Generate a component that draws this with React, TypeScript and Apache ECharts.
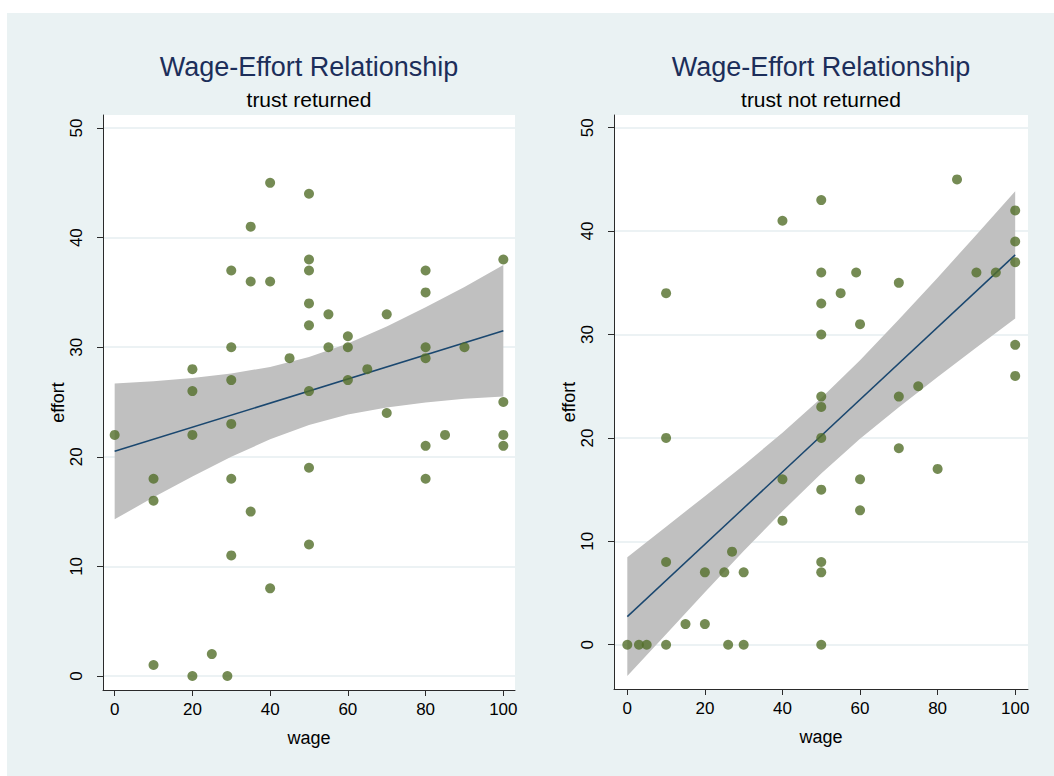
import React, { useEffect, useRef } from "react";
import * as echarts from "echarts";

// ---- data: trust returned (left panel) ----
const wageTR = [40, 50, 35, 50, 100, 30, 50, 80, 35, 40, 50, 80, 55, 70, 50, 60, 30, 55, 60, 80, 90, 45, 80, 20, 65, 30, 60, 20, 50, 100, 70, 0, 20, 30, 85, 100, 80, 100, 10, 30, 80, 50, 10, 35, 50, 30, 40, 10, 25, 20, 29];
const effortTR = [45, 44, 41, 38, 38, 37, 37, 37, 36, 36, 34, 35, 33, 33, 32, 31, 30, 30, 30, 30, 30, 29, 29, 28, 28, 27, 27, 26, 26, 25, 24, 22, 22, 23, 22, 22, 21, 21, 18, 18, 18, 19, 16, 15, 12, 11, 8, 1, 2, 0, 0];

// ---- data: trust not returned (right panel) ----
const wageTN = [85, 50, 40, 100, 100, 100, 50, 59, 90, 95, 10, 55, 50, 70, 60, 50, 100, 100, 70, 75, 50, 50, 10, 50, 70, 80, 40, 60, 50, 60, 40, 27, 10, 50, 20, 25, 30, 50, 15, 20, 0, 3, 5, 10, 26, 30, 50];
const effortTN = [45, 43, 41, 42, 39, 37, 36, 36, 36, 36, 34, 34, 33, 35, 31, 30, 29, 26, 24, 25, 24, 23, 20, 20, 19, 17, 16, 16, 15, 13, 12, 9, 8, 8, 7, 7, 7, 7, 2, 2, 0, 0, 0, 0, 0, 0, 0];

// ---- fitted line and 95% CI band ----
const bandWage = [0, 10, 20, 30, 40, 50, 60, 70, 80, 90, 100];
const lowerTR = [14.3, 16.3, 18.2, 20.0, 21.6, 22.9, 23.85, 24.5, 24.95, 25.3, 25.5];
const upperTR = [26.7, 26.9, 27.2, 27.6, 28.2, 29.1, 30.35, 31.9, 33.65, 35.5, 37.5];
const lowerTN = [-3.03, 1.02, 5.07, 9.06, 12.91, 16.56, 19.91, 22.96, 25.9, 28.75, 31.55];
const upperTN = [8.47, 11.42, 14.37, 17.36, 20.51, 23.86, 27.51, 31.46, 35.5, 39.65, 43.85];
const fitWage = [0, 100];
const fitTR = [20.5, 31.5];
const fitTN = [2.72, 37.7];

// ---- ticks ----
const xTicks = [0, 20, 40, 60, 80, 100];
const yTicks = [0, 10, 20, 30, 40, 50];

const titleText = "Wage-Effort Relationship";
const subtitles = ["trust returned", "trust not returned"];

const FONT = "'Liberation Sans', Arial, sans-serif";
const DOT = "#536e29";
const NAVY = "#1a476f";
const BAND = "#c0c0c0";
const BG = "#eaf2f3";
const GRIDLINE = "#e6eef0";
const AXIS = "#2a2a2a";

const pairs = (xs: number[], ys: number[]) => xs.map((x, i) => [x, ys[i]]);

export default function App() {
  const ref = useRef<HTMLDivElement>(null);
  useEffect(() => {
    if (!ref.current) return;
    const chart = echarts.init(ref.current, null, { renderer: "svg" });

    const grids = [
      { left: 96, top: 102, width: 412, height: 575 },
      { left: 607, top: 102, width: 414, height: 574 },
    ];
    const xr = [
      [-3, 103],
      [-3.43, 103.3],
    ];
    const yr = [
      [-1.28, 51.19],
      [-4.28, 51.23],
    ];

    const xAxis = [0, 1].map((i) => ({
      type: "value",
      gridIndex: i,
      min: xr[i][0],
      max: xr[i][1],
      name: "wage",
      nameLocation: "middle",
      nameGap: 39,
      nameTextStyle: { fontSize: 18, color: "#000", fontFamily: FONT },
      axisLine: { show: true, onZero: false, lineStyle: { color: AXIS, width: 1 } },
      axisTick: { show: true, length: 6, customValues: xTicks, lineStyle: { color: AXIS } },
      axisLabel: { customValues: xTicks, fontSize: 17, color: "#000", margin: 11, fontFamily: FONT },
      splitLine: { show: false },
    }));
    const yAxis = [0, 1].map((i) => ({
      type: "value",
      gridIndex: i,
      min: yr[i][0],
      max: yr[i][1],
      name: "effort",
      nameLocation: "middle",
      nameGap: 35,
      nameRotate: 90,
      nameTextStyle: { fontSize: 18, color: "#000", fontFamily: FONT },
      axisLine: { show: true, onZero: false, lineStyle: { color: AXIS, width: 1 } },
      axisTick: { show: true, length: 6, customValues: yTicks, lineStyle: { color: AXIS } },
      axisLabel: { customValues: yTicks, fontSize: 17, color: "#000", margin: 18, rotate: 90, fontFamily: FONT },
      splitLine: { show: true, lineStyle: { color: GRIDLINE, width: 1.5 } },
    }));

    const lowers = [lowerTR, lowerTN];
    const uppers = [upperTR, upperTN];
    const fits = [fitTR, fitTN];
    const pts = [pairs(wageTR, effortTR), pairs(wageTN, effortTN)];

    const series: any[] = [];
    [0, 1].forEach((i) => {
      const bandData = bandWage.map((w, k) => [w, lowers[i][k], uppers[i][k]]);
      series.push({
        type: "custom",
        xAxisIndex: i,
        yAxisIndex: i,
        data: bandData,
        silent: true,
        z: 1,
        renderItem: (params: any, api: any) => {
          if (params.dataIndex !== 0) return null;
          const top = bandData.map((d) => api.coord([d[0], d[2]]));
          const bottom = bandData
            .slice()
            .reverse()
            .map((d) => api.coord([d[0], d[1]]));
          return {
            type: "polygon",
            shape: { points: top.concat(bottom), smooth: 0 },
            style: { fill: BAND, stroke: "none" },
          };
        },
      });
      series.push({
        type: "line",
        xAxisIndex: i,
        yAxisIndex: i,
        data: pairs(fitWage, fits[i]),
        symbol: "none",
        lineStyle: { color: NAVY, width: 1.5 },
        silent: true,
        z: 2,
      });
      series.push({
        type: "scatter",
        xAxisIndex: i,
        yAxisIndex: i,
        data: pts[i],
        symbol: "circle",
        symbolSize: 10,
        itemStyle: { color: DOT },
        z: 3,
      });
    });

    const centers = [302, 814];
    const graphic: any[] = [];
    [0, 1].forEach((i) => {
      graphic.push({
        type: "rect",
        shape: { x: grids[i].left, y: grids[i].top, width: grids[i].width, height: grids[i].height },
        style: { fill: "#ffffff" },
        z: -10,
        silent: true,
      });
      graphic.push({
        type: "text",
        x: centers[i],
        y: 54,
        style: {
          text: titleText,
          fill: "#1c2e5a",
          fontSize: 27,
          fontFamily: FONT,
          align: "center",
          verticalAlign: "middle",
        },
      });
      graphic.push({
        type: "text",
        x: centers[i],
        y: 86,
        style: {
          text: subtitles[i],
          fill: "#000000",
          fontSize: 21,
          fontFamily: FONT,
          align: "center",
          verticalAlign: "middle",
        },
      });
    });

    chart.setOption({
      animation: false,
      backgroundColor: BG,
      grid: grids,
      xAxis,
      yAxis,
      series,
      graphic,
    });
    return () => chart.dispose();
  }, []);

  return (
    <div
      ref={ref}
      style={{ position: "absolute", left: 7, top: 13, width: 1047, height: 763 }}
    />
  );
}
